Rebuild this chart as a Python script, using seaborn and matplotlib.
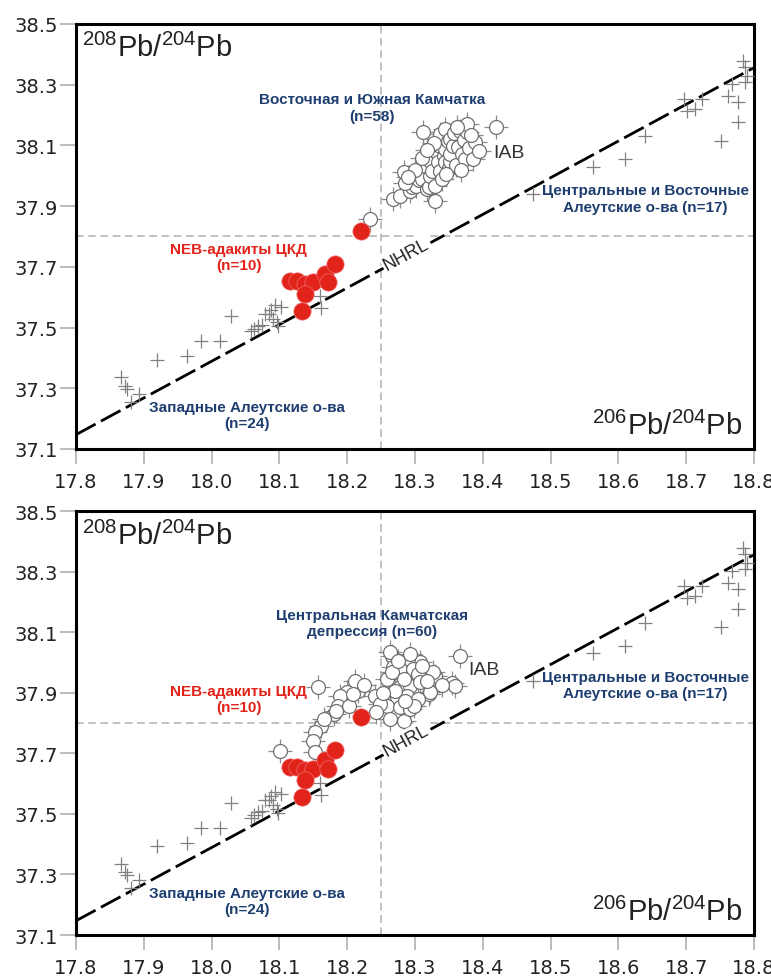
import matplotlib
matplotlib.use("Agg")
import matplotlib.pyplot as plt
import seaborn as sns
import numpy as np

# West Aleutians (n=24), gray crosses
w_aleut_x = [17.867, 17.872, 17.875, 17.893, 17.881, 17.920, 17.964, 17.984, 18.012, 18.028,
             18.058, 18.062, 18.069, 18.074, 18.079, 18.084, 18.087, 18.091, 18.094, 18.096,
             18.098, 18.103, 18.160, 18.162]
w_aleut_y = [37.336, 37.309, 37.298, 37.281, 37.256, 37.394, 37.405, 37.455, 37.455, 37.537,
             37.487, 37.495, 37.506, 37.509, 37.545, 37.545, 37.559, 37.528, 37.574, 37.517,
             37.504, 37.567, 37.603, 37.564]

# Central and East Aleutians (n=17)
e_aleut_x = [18.474, 18.563, 18.610, 18.639, 18.696, 18.701, 18.713, 18.723, 18.752, 18.762,
             18.777, 18.777, 18.767, 18.784, 18.787, 18.787, 18.789]
e_aleut_y = [37.940, 38.030, 38.055, 38.132, 38.253, 38.214, 38.220, 38.253, 38.116, 38.264,
             38.242, 38.176, 38.302, 38.379, 38.357, 38.308, 38.330]

# NEB adakites of the Central Kamchatka Depression (n=10)
neb_x = [18.116, 18.126, 18.138, 18.150, 18.167, 18.172, 18.182, 18.137, 18.133, 18.221]
neb_y = [37.654, 37.654, 37.644, 37.649, 37.677, 37.649, 37.710, 37.611, 37.556, 37.819]

# East and South Kamchatka (n=58)
es_kam_x = [18.234, 18.268, 18.278, 18.283, 18.292, 18.295, 18.302, 18.306, 18.310, 18.315,
            18.318, 18.320, 18.322, 18.322, 18.325, 18.330, 18.330, 18.330, 18.334, 18.337,
            18.337, 18.337, 18.340, 18.342, 18.344, 18.344, 18.344, 18.348, 18.350, 18.352,
            18.352, 18.352, 18.356, 18.358, 18.360, 18.364, 18.366, 18.369, 18.372, 18.374,
            18.376, 18.376, 18.380, 18.386, 18.388, 18.312, 18.300, 18.310, 18.285, 18.328,
            18.362, 18.382, 18.395, 18.420, 18.290, 18.318, 18.346, 18.368]
es_kam_y = [37.858, 37.924, 37.934, 38.012, 37.950, 37.962, 37.967, 37.985, 37.989, 38.033,
            37.955, 37.962, 38.000, 38.050, 38.015, 37.967, 37.918, 38.083, 38.044, 38.017,
            38.099, 38.138, 37.990, 38.065, 38.044, 38.088, 38.154, 38.115, 38.025, 38.050,
            38.072, 38.121, 38.099, 38.140, 38.035, 38.094, 38.149, 38.072, 38.118, 38.055,
            38.143, 38.171, 38.090, 38.055, 38.110, 38.143, 38.020, 38.060, 37.975, 38.108,
            38.160, 38.135, 38.080, 38.160, 37.995, 38.085, 38.005, 38.020]

# Central Kamchatka Depression (n=60)
ckd_x = [18.366, 18.354, 18.359, 18.330, 18.320, 18.307, 18.290, 18.266, 18.263, 18.293,
         18.268, 18.278, 18.297, 18.305, 18.258, 18.278, 18.293, 18.307, 18.261, 18.273,
         18.288, 18.258, 18.278, 18.293, 18.263, 18.283, 18.241, 18.248, 18.216, 18.212,
         18.199, 18.189, 18.187, 18.180, 18.202, 18.157, 18.162, 18.152, 18.150, 18.152,
         18.101, 18.225, 18.184, 18.209, 18.322, 18.327, 18.293, 18.266, 18.305, 18.317,
         18.283, 18.270, 18.298, 18.285, 18.253, 18.243, 18.310, 18.275, 18.166, 18.340]
ckd_y = [38.022, 37.932, 37.922, 37.956, 37.896, 38.001, 38.012, 38.022, 38.034, 38.028,
         37.984, 37.979, 37.979, 37.962, 37.946, 37.918, 37.923, 37.935, 37.890, 37.885,
         37.890, 37.857, 37.852, 37.852, 37.814, 37.808, 37.890, 37.863, 37.907, 37.940,
         37.902, 37.890, 37.857, 37.830, 37.857, 37.918, 37.791, 37.770, 37.742, 37.703,
         37.709, 37.925, 37.841, 37.895, 37.902, 37.968, 37.847, 37.968, 37.880, 37.940,
         37.945, 37.905, 37.857, 37.874, 37.900, 37.835, 37.990, 38.005, 37.812, 37.925]

# Northern Hemisphere Reference Line (Hart, 1984)
nhrl_slope = 1.209
nhrl_intercept = 15.627
nhrl_x = np.array([17.8, 18.8])
nhrl_y = nhrl_slope * nhrl_x + nhrl_intercept

x_ticks = [17.8, 17.9, 18.0, 18.1, 18.2, 18.3, 18.4, 18.5, 18.6, 18.7, 18.8]
x_tick_labels = ["17.8", "17.9", "18.0", "18.1", "18.2", "18.3", "18.4", "18.5", "18.6", "18.7", "18.8"]
y_ticks = [37.1, 37.3, 37.5, 37.7, 37.9, 38.1, 38.3, 38.5]
y_tick_labels = ["37.1", "37.3", "37.5", "37.7", "37.9", "38.1", "38.3", "38.5"]

NAVY = "#1f3e70"
RED = "#e2231a"
GRAY = "#8c8c8c"
LAB = ["Liberation Sans", "DejaVu Sans"]

sns.set_theme(style="white")
plt.rcParams["font.family"] = ["DejaVu Sans"]
plt.rcParams["mathtext.fontset"] = "custom"
plt.rcParams["mathtext.rm"] = "Liberation Sans"
plt.rcParams["mathtext.default"] = "rm"

fig = plt.figure(figsize=(7.71, 9.78), dpi=100)
ax_top = fig.add_axes([0.0986, 0.5399, 0.8794, 0.4346])
ax_bot = fig.add_axes([0.0986, 0.0429, 0.8794, 0.4335])


def draw_panel(ax, kam_x, kam_y, kam_text, kam_text_y, iab_xy, neb_text_y):
    # reference lines
    ax.axvline(18.25, color="#b0b0b0", lw=1.1, ls=(0, (5, 3)), zorder=1)
    ax.axhline(37.8, color="#b0b0b0", lw=1.1, ls=(0, (5, 3)), zorder=1)

    # NHRL
    sns.lineplot(x=nhrl_x, y=nhrl_y, ax=ax, color="black", lw=2.0, zorder=2)
    ax.lines[-1].set_dashes((8, 2.2))
    ax.text(18.287, 37.742, "NHRL", rotation=28.4, rotation_mode="anchor",
            ha="center", va="center", fontsize=13, family=LAB, color="#222222", zorder=6,
            bbox=dict(boxstyle="square,pad=0.12", fc="white", ec="none"))

    # Aleutian crosses
    sns.scatterplot(x=w_aleut_x + e_aleut_x, y=w_aleut_y + e_aleut_y, ax=ax, marker="+",
                    s=110, color="#808080", linewidth=0.9, zorder=3)

    # Kamchatka: open circles with error crosses
    sns.scatterplot(x=kam_x, y=kam_y, ax=ax, marker="+", s=290, color=GRAY,
                    linewidth=0.9, zorder=4)
    sns.scatterplot(x=kam_x, y=kam_y, ax=ax, marker="o", s=100, color="white",
                    edgecolor="#707070", linewidth=0.9, zorder=4)

    # NEB adakites
    sns.scatterplot(x=neb_x, y=neb_y, ax=ax, marker="o", s=155, color=RED,
                    edgecolor="#f07070", linewidth=0.5, zorder=5)

    # annotations
    bold = dict(ha="center", va="center", fontsize=11, fontweight="bold", family=LAB,
                linespacing=1.2, zorder=7)
    ax.text(18.237, kam_text_y, kam_text, color=NAVY, **bold)
    ax.text(iab_xy[0], iab_xy[1], "IAB", ha="left", va="center", fontsize=14,
            family=LAB, color="#333333", zorder=7)
    ax.text(18.640, 37.925, "Центральные и Восточные\nАлеутские о-ва (n=17)",
            color=NAVY, **bold)
    ax.text(18.040, neb_text_y, "NEB-адакиты ЦКД\n(n=10)", color=RED, **bold)
    ax.text(18.052, 37.212, "Западные Алеутские о-ва\n(n=24)", color=NAVY, **bold)

    ax.text(0.009, 0.978, r"$^{208}$Pb/$^{204}$Pb", transform=ax.transAxes,
            ha="left", va="top", fontsize=21, family=LAB, color="#222222")
    ax.text(0.982, 0.022, r"$^{206}$Pb/$^{204}$Pb", transform=ax.transAxes,
            ha="right", va="bottom", fontsize=21, family=LAB, color="#222222")

    ax.set_xlim(17.8, 18.8)
    ax.set_ylim(37.1, 38.5)
    ax.set_xticks(x_ticks)
    ax.set_xticklabels(x_tick_labels)
    ax.set_yticks(y_ticks)
    ax.set_yticklabels(y_tick_labels)
    ax.set_xlabel("")
    ax.set_ylabel("")
    ax.tick_params(axis="x", bottom=True, length=10.5, width=1.2, color="#b0b0b0",
                   pad=6, labelsize=14, labelcolor="#222222", direction="out")
    ax.tick_params(axis="y", left=True, length=11.5, width=1.2, color="#b0b0b0",
                   pad=1.5, labelsize=14, labelcolor="#222222", direction="out")
    for sp in ax.spines.values():
        sp.set_visible(True)
        sp.set_color("black")
        sp.set_linewidth(2.2)
    ax.set_facecolor("white")


draw_panel(ax_top, es_kam_x, es_kam_y, "Восточная и Южная Камчатка\n(n=58)", 38.225,
           (18.415, 38.075), 37.733)
draw_panel(ax_bot, ckd_x, ckd_y, "Центральная Камчатская\nдепрессия (n=60)", 38.13,
           (18.378, 37.978), 37.88)

fig.savefig("out.png", dpi=100, facecolor="white")
